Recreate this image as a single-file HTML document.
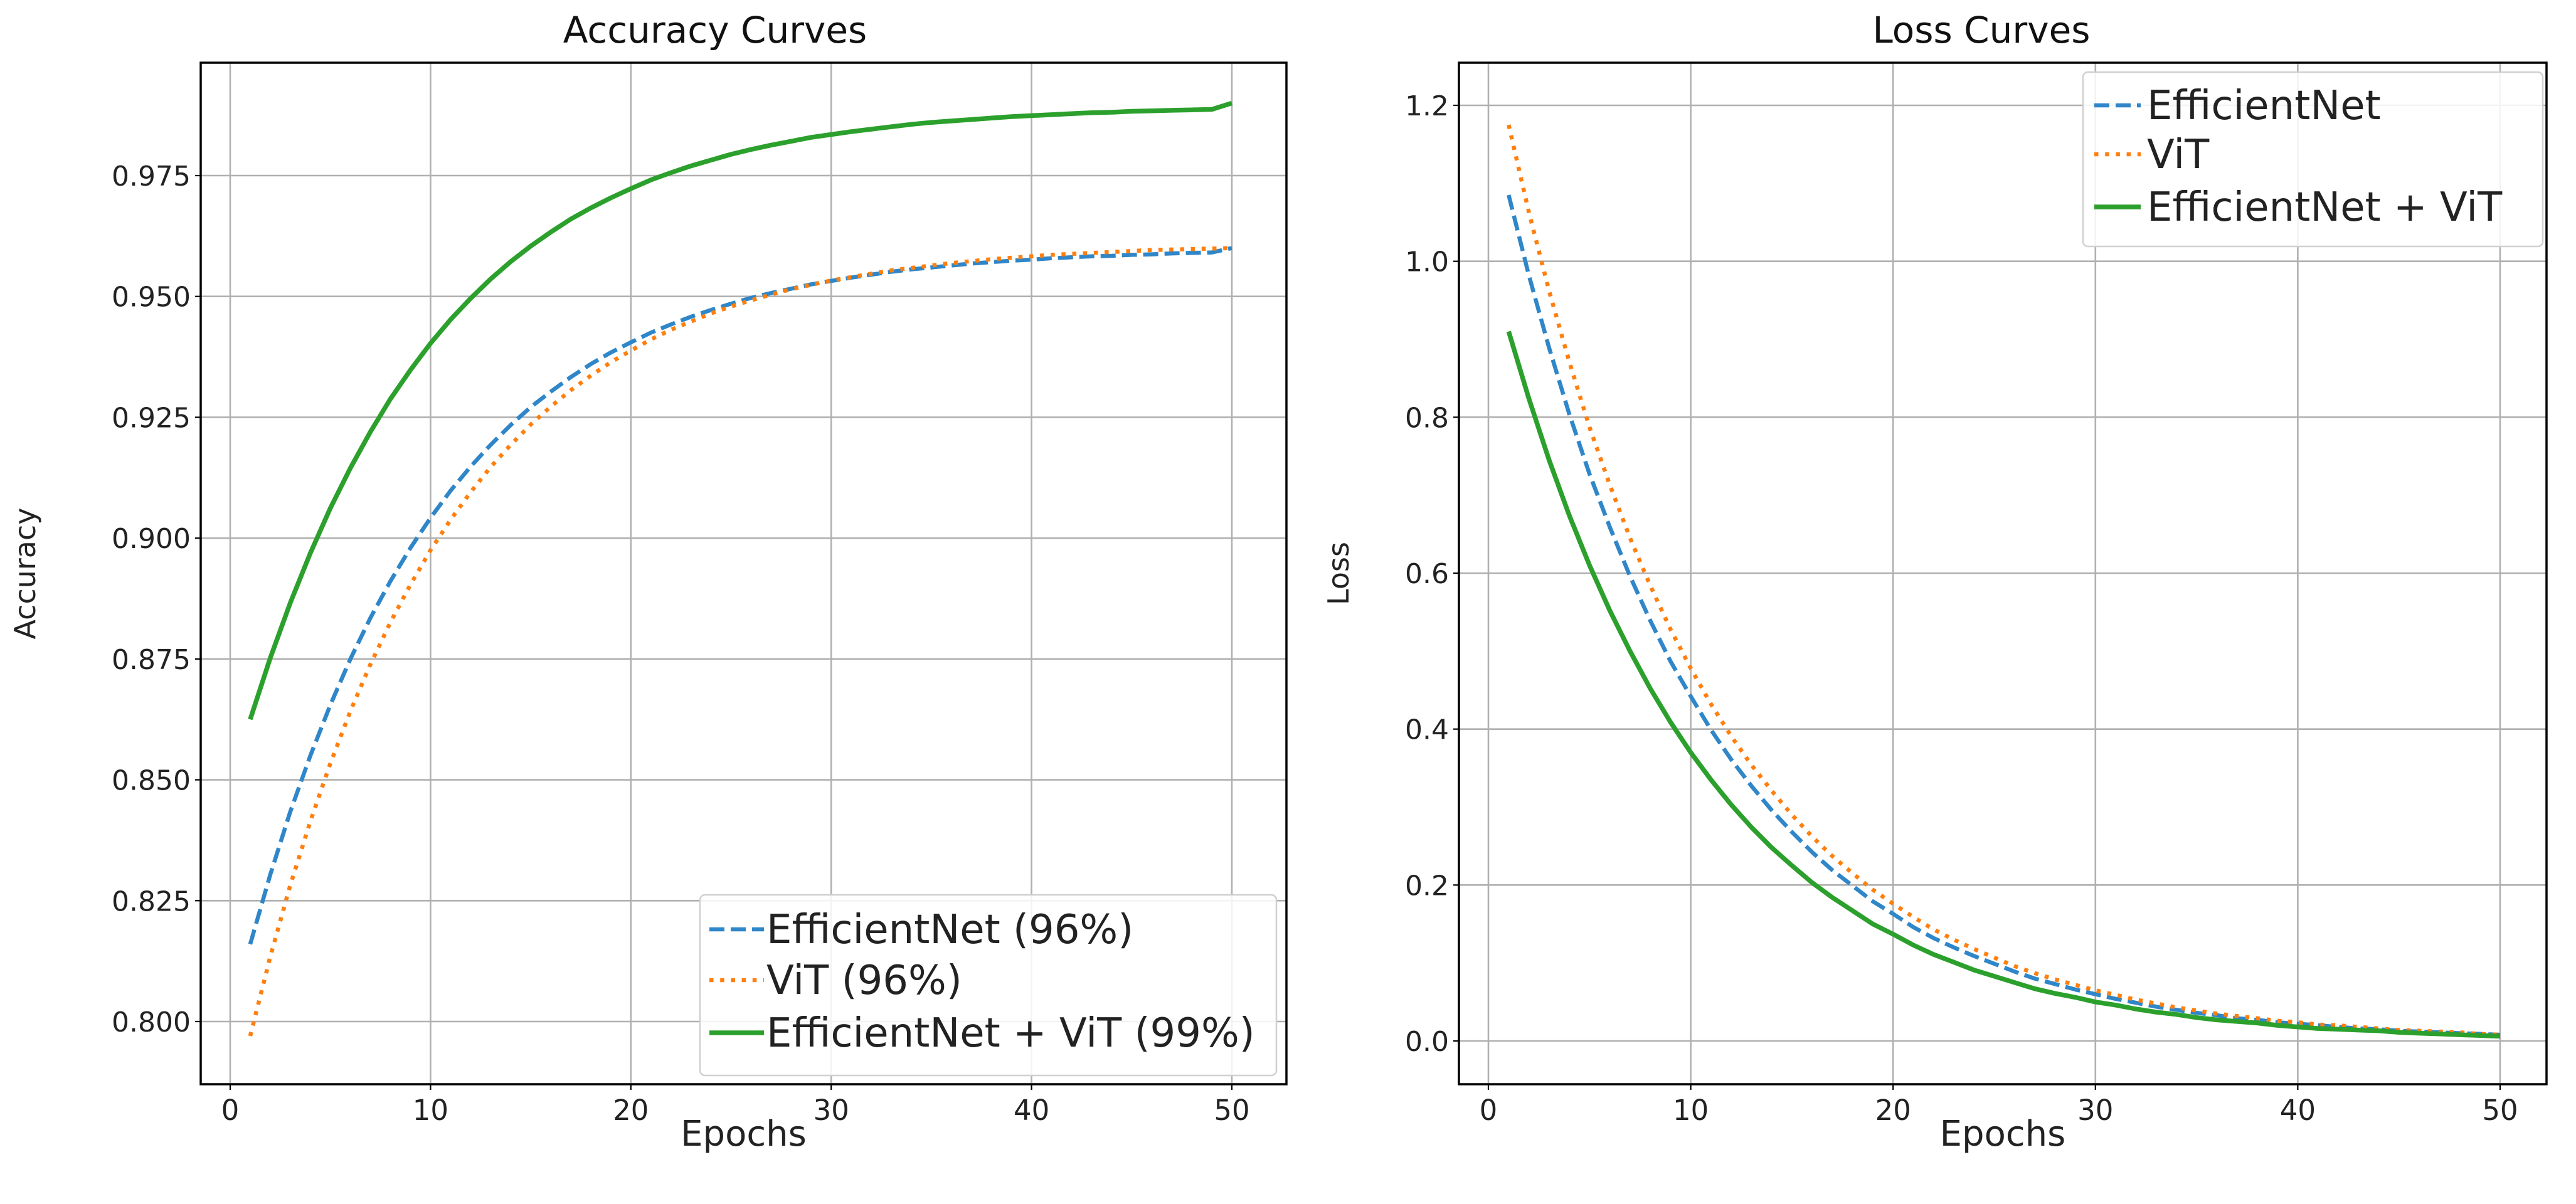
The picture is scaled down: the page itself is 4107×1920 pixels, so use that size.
<!DOCTYPE html>
<html><head><meta charset="utf-8"><style>
html,body{margin:0;padding:0;background:#fff;}
svg{display:block;font-family:"DejaVu Sans","Liberation Sans",sans-serif;}
</style></head><body>
<svg id="fig" width="4107" height="1920" viewBox="0 0 4107 1920" xmlns="http://www.w3.org/2000/svg"></svg>
<script>
const epochs = Array.from({length:50},(_,i)=>i+1);
const accEff = [.8160,.8304,.8434,.8550,.8655,.8750,.8835,.8911,.8980,.9042,.9098,.9148,.9193,.9234,.9271,.9303,.9333,.9360,.9384,.9405,.9425,.9442,.9458,.9472,.9485,.9497,.9507,.9516,.9525,.9532,.9539,.9545,.9551,.9556,.9560,.9564,.9568,.9571,.9574,.9576,.9579,.9581,.9583,.9584,.9586,.9587,.9589,.9590,.9591,.9600];
const accVit = [.7970,.8134,.8282,.8414,.8534,.8642,.8739,.8826,.8904,.8975,.9038,.9095,.9147,.9193,.9235,.9272,.9306,.9336,.9364,.9388,.9411,.9431,.9448,.9465,.9479,.9492,.9504,.9515,.9524,.9533,.9540,.9547,.9554,.9559,.9564,.9569,.9573,.9577,.9580,.9583,.9586,.9588,.9590,.9592,.9594,.9596,.9597,.9598,.9599,.9600];
const accHyb = [.8625,.8752,.8866,.8969,.9062,.9145,.9220,.9288,.9348,.9403,.9452,.9496,.9536,.9572,.9604,.9633,.9660,.9683,.9704,.9723,.9741,.9756,.9770,.9782,.9794,.9804,.9813,.9821,.9829,.9835,.9841,.9846,.9851,.9856,.9860,.9863,.9866,.9869,.9872,.9874,.9876,.9878,.9880,.9881,.9883,.9884,.9885,.9886,.9887,.9900];
const lossEff = [1.085,.982,.889,.804,.727,.659,.596,.539,.487,.442,.399,.361,.327,.296,.268,.242,.219,.199,.179,.163,.146,.132,.120,.109,.099,.089,.080,.073,.066,.060,.054,.049,.044,.040,.036,.033,.029,.027,.024,.022,.020,.018,.016,.015,.013,.012,.011,.010,.009,.008];
const lossVit = [1.175,1.063,.962,.871,.787,.713,.645,.584,.528,.478,.432,.391,.354,.321,.290,.262,.237,.215,.194,.176,.159,.143,.130,.118,.107,.096,.087,.079,.072,.065,.059,.053,.048,.043,.039,.035,.032,.029,.026,.024,.021,.020,.018,.016,.014,.013,.012,.011,.009,.008];
const lossHyb = [.910,.824,.745,.674,.610,.552,.500,.452,.409,.370,.335,.303,.274,.248,.225,.203,.184,.167,.150,.137,.123,.111,.101,.091,.083,.075,.067,.061,.056,.050,.046,.041,.037,.034,.030,.027,.025,.023,.020,.018,.016,.015,.014,.013,.011,.010,.009,.008,.007,.006];
const xTicks = [0,10,20,30,40,50];
const accTicks = [0.800,0.825,0.850,0.875,0.900,0.925,0.950,0.975];
const lossTicks = [0.0,0.2,0.4,0.6,0.8,1.0,1.2];
const accLegend = ["EfficientNet (96%)","ViT (96%)","EfficientNet + ViT (99%)"];
const lossLegend = ["EfficientNet","ViT","EfficientNet + ViT"];

const NS="http://www.w3.org/2000/svg";
const svg=document.getElementById('fig');
function mk(tag,attrs,parent){const e=document.createElementNS(NS,tag);for(const k in attrs)e.setAttribute(k,attrs[k]);(parent||svg).appendChild(e);return e;}
const styles=[
 {c:'#2f86c8',dash:'24,10',w:6.5},
 {c:'#ff7f0e',dash:'6.5,10.7',w:6.5},
 {c:'#2ca02c',dash:'',w:7.5}
];
function panel(o){
  const g=mk('g',{});
  
  
  const X=v=>o.x0+(v-0)*(o.x50-o.x0)/50;
  const Y=v=>o.yA+(v-o.vA)*(o.yB-o.yA)/(o.vB-o.vA);
  xTicks.forEach(t=>{
    const l=mk('line',{x1:X(t),x2:X(t),y1:o.top,y2:o.bot,stroke:'#b0b0b0','stroke-width':2.6},g);
    
    mk('line',{x1:X(t),x2:X(t),y1:o.bot,y2:o.bot+9,stroke:'#000','stroke-width':2.2},g);
    const tx=mk('text',{x:X(t),y:o.bot+57,'font-size':45,'text-anchor':'middle',fill:'#222'},g);
    tx.textContent=t;
  });
  o.ticks.forEach(t=>{
    const l=mk('line',{x1:o.left,x2:o.right,y1:Y(t),y2:Y(t),stroke:'#b0b0b0','stroke-width':2.6},g);
    
    mk('line',{x1:o.left-9,x2:o.left,y1:Y(t),y2:Y(t),stroke:'#000','stroke-width':2.2},g);
    const tx=mk('text',{x:o.left-16,y:Y(t)+16,'font-size':44,'text-anchor':'end',fill:'#222'},g);
    tx.textContent=t.toFixed(o.dec);
  });
  o.series.forEach((s,i)=>{
    const st=styles[i];
    const d=s.map((v,j)=>(j?'L':'M')+X(epochs[j]).toFixed(1)+','+Y(v).toFixed(1)).join('');
    const p=mk('path',{d:d,fill:'none',stroke:st.c,'stroke-width':st.w,'stroke-dasharray':st.dash,'stroke-linejoin':'round'},g);
    
    
  });
  const fr=mk('rect',{x:o.left,y:o.top,width:o.right-o.left,height:o.bot-o.top,fill:'none',stroke:'#000','stroke-width':3.5},g);
  
  const tt=mk('text',{x:o.tx,y:68,'font-size':58,'text-anchor':'middle',fill:'#111'},g);
  tt.textContent=o.title;
  const xl=mk('text',{x:(o.left+o.right)/2,y:1827,'font-size':56,'text-anchor':'middle',fill:'#222'},g);
  xl.textContent='Epochs';
  const yl=mk('text',{x:0,y:0,'font-size':46,'text-anchor':'middle',fill:'#222',transform:`translate(${o.ylx},${(o.top+o.bot)/2}) rotate(-90)`},g);
  yl.textContent=o.ylabel;
  const L=o.leg;
  const lg=mk('g',{},g);
  
  mk('rect',{x:L.x,y:L.y,width:L.w,height:L.h,rx:8,fill:'#fff','fill-opacity':0.85,stroke:'#d0d0d0','stroke-width':2.5},lg);
  o.labels.forEach((lab,i)=>{
    const st=styles[i];const yy=L.rows[i];
    mk('line',{x1:L.sx1,x2:L.sx2,y1:yy,y2:yy,stroke:st.c,'stroke-width':st.w,'stroke-dasharray':st.dash},lg);
    const t=mk('text',{x:L.tx,y:yy+22,'font-size':64,fill:'#222'},lg);
    t.textContent=lab;
  });
}
panel({name:'accuracy-chart',title:'Accuracy Curves',tx:1140,ylabel:'Accuracy',left:320,right:2051,top:100,bot:1729,x0:367,x50:1964,
  vA:0.800,yA:1629,vB:0.975,yB:280,ticks:accTicks,dec:3,ylx:56,series:[accEff,accVit,accHyb],labels:accLegend,
  leg:{x:1116,y:1427,w:919,h:288,rows:[1482,1563,1647],sx1:1131,sx2:1218,tx:1222}});
panel({name:'loss-chart',title:'Loss Curves',tx:3159,ylabel:'Loss',left:2326,right:4060,top:100,bot:1729,x0:2373,x50:3986,
  vA:0.0,yA:1660,vB:1.2,yB:168,ticks:lossTicks,dec:1,ylx:2150,series:[lossEff,lossVit,lossHyb],labels:lossLegend,
  leg:{x:3321,y:115,w:733,h:278,rows:[168,246,330],sx1:3339,sx2:3413,tx:3423}});
</script>
</body></html>
